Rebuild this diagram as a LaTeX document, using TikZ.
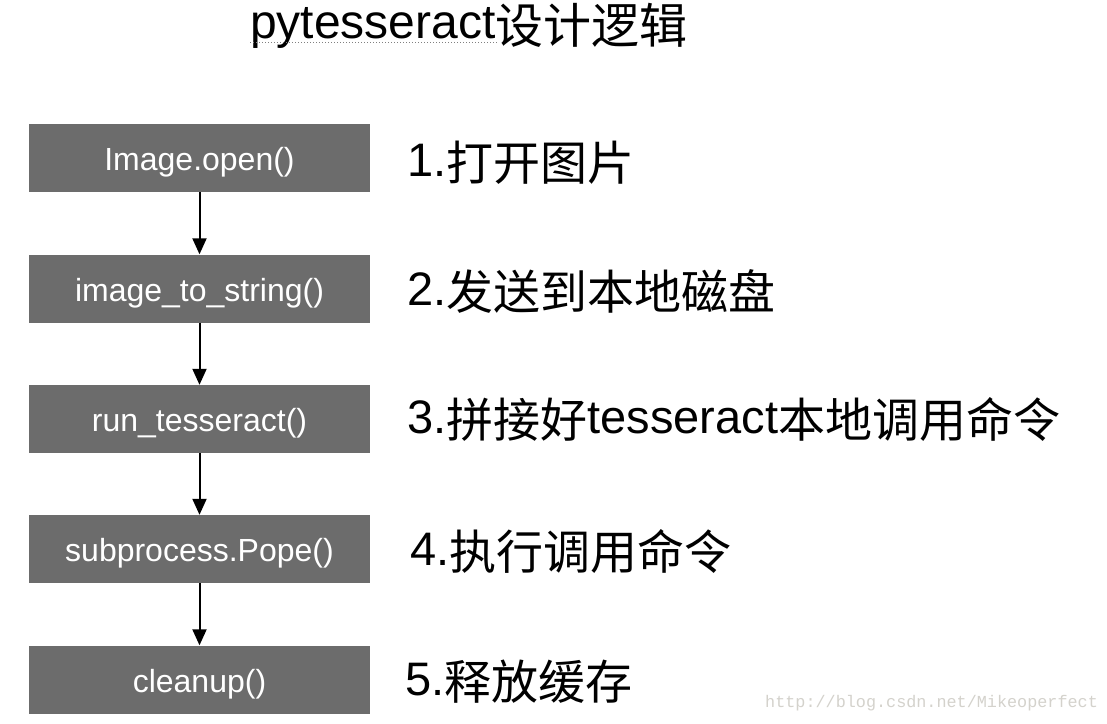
\documentclass[tikz,border=0pt]{standalone}
\usepackage{fontspec}
\setmainfont{Liberation Sans}
\newfontfamily\cjkfam{Noto Sans CJK SC}
\newcommand{\cjk}[1]{\raisebox{-4pt}{\cjkfam #1}}
\newfontfamily\wmfont{Liberation Mono}
\usetikzlibrary{arrows.meta}
\definecolor{boxgray}{RGB}{108,108,108}
\definecolor{wmgray}{RGB}{212,210,204}
\tikzset{
  stepbox/.style={fill=boxgray, draw=none, minimum width=341pt, minimum height=68pt,
    inner sep=0pt, text=white, font=\fontsize{32}{32}\selectfont,
    text height=25pt, text depth=0pt},
  steplabel/.style={anchor=base west, inner sep=0pt, font=\fontsize{47}{47}\selectfont, text=black},
  flow/.style={line width=2pt, -{Triangle[width=14pt,length=16pt]}}
}
\begin{document}
\begin{tikzpicture}[x=1pt,y=-1pt]
\useasboundingbox (0,0) rectangle (1107,723);
\fill[white] (0,0) rectangle (1107,723);
% title
\node[anchor=base west, inner sep=0pt, font=\fontsize{48}{48}\selectfont] (title) at (250,38) {pytesseract\raisebox{-5pt}{\cjkfam 设计逻辑}};
\coordinate (ul1) at (250,42);
\coordinate (ul2) at (497,42);
\draw[gray, dotted, line width=1pt] (ul1) -- (ul2);
% boxes
\node[stepbox] (b1) at (199.5,158) {Image.open()};
\node[stepbox] (b2) at (199.5,288.5) {image\_to\_string()};
\node[stepbox] (b3) at (199.5,419) {run\_tesseract()};
\node[stepbox] (b4) at (199.5,549) {subprocess.Pope()};
\node[stepbox] (b5) at (199.5,679.5) {cleanup()};
% arrows
\draw[flow] (b1) -- (b2);
\draw[flow] (b2) -- (b3);
\draw[flow] (b3) -- (b4);
\draw[flow] (b4) -- (b5);
% labels
\node[steplabel] (l1) at (407,176) {1.\cjk{打开图片}};
\node[steplabel] (l2) at (407,305) {2.\cjk{发送到本地磁盘}};
\node[steplabel] (l3) at (407,433) {3.\cjk{拼接好}tesseract\cjk{本地调用命令}};
\node[steplabel] (l4) at (410,565) {4.\cjk{执行调用命令}};
\node[steplabel] (l5) at (405,695) {5.\cjk{释放缓存}};
% watermark
\node[anchor=base west, inner sep=0pt, text=wmgray, font=\wmfont\fontsize{16.8}{16.8}\selectfont] (wm) at (765,707) {http://blog.csdn.net/Mikeoperfect};
\end{tikzpicture}
\end{document}
